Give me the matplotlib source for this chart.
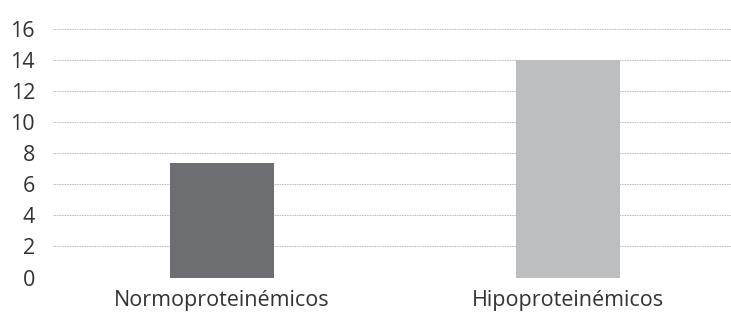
import matplotlib.pyplot as plt

categories = ["Normoproteinémicos", "Hipoproteinémicos"]
values = [7.4, 14.0]
bar_colors = ["#6d6e71", "#bcbec0"]
y_ticks = [0, 2, 4, 6, 8, 10, 12, 14, 16]

plt.rcParams["font.family"] = ["Open Sans", "DejaVu Sans"]

fig = plt.figure(figsize=(7.31, 3.16), dpi=100)
ax = fig.add_axes([53 / 731, 1 - 277.5 / 316, 678 / 731, 248.5 / 316])

x = range(len(categories))
ax.bar(x, values, width=0.30, color=bar_colors, zorder=3)

ax.set_xlim(-0.488, 1.47)
ax.set_ylim(0, 16)
ax.set_yticks(y_ticks)
ax.set_xticks(list(x))
ax.set_xticklabels(categories)

# dotted gridlines, no spines
ax.yaxis.grid(True, linestyle=(0, (1, 1)), linewidth=0.6, color="#9a9a9a", zorder=0)
for side in ["top", "right", "left", "bottom"]:
    ax.spines[side].set_visible(False)

ax.tick_params(axis="both", length=0, labelsize=15.5, labelcolor="#333333")
ax.tick_params(axis="y", pad=13)
ax.tick_params(axis="x", pad=9)

plt.savefig("out.png", dpi=100)
plt.close()
